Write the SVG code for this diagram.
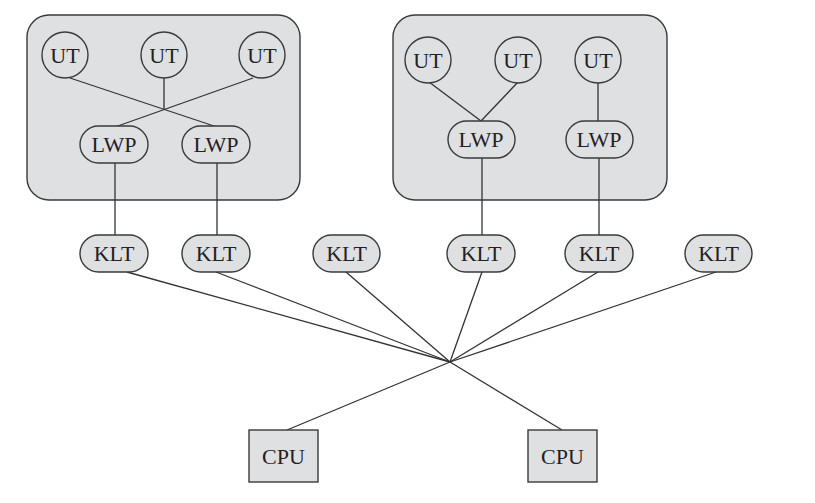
<svg xmlns="http://www.w3.org/2000/svg" width="815" height="503" viewBox="0 0 815 503">
  <style>
    .proc { fill: #dfe0e2; stroke: #3a3a3a; stroke-width: 1.4; }
    .node { fill: #dfe0e2; stroke: #3a3a3a; stroke-width: 1.4; }
    .lbl { font-family: "Liberation Serif", "Times New Roman", serif; font-size: 22px; fill: #222; text-anchor: middle; dominant-baseline: central; }
    .edge { stroke: #333; stroke-width: 1.3; fill: none; }
  </style>
  <rect width="815" height="503" fill="#ffffff"/>

  <!-- process containers -->
  <g id="process-1"><rect class="proc" x="27" y="15" width="273" height="185" rx="22"/></g>
  <g id="process-2"><rect class="proc" x="393" y="15" width="274" height="185" rx="22"/></g>

  <!-- connectors -->
  <g id="connectors">
    <line class="edge" x1="70" y1="78" x2="217" y2="127"/>
    <line class="edge" x1="253" y1="78" x2="115" y2="127"/>
    <line class="edge" x1="164" y1="78" x2="164" y2="109"/>
    <line class="edge" x1="429" y1="82" x2="481" y2="121"/>
    <line class="edge" x1="518" y1="82" x2="481" y2="121"/>
    <line class="edge" x1="598" y1="83" x2="598" y2="121"/>
    <line class="edge" x1="115" y1="163" x2="115" y2="235"/>
    <line class="edge" x1="217" y1="163" x2="217" y2="235"/>
    <line class="edge" x1="482" y1="158" x2="482" y2="235"/>
    <line class="edge" x1="599" y1="158" x2="599" y2="235"/>
    <line class="edge" x1="127" y1="272" x2="450" y2="362"/>
    <line class="edge" x1="216" y1="272" x2="450" y2="362"/>
    <line class="edge" x1="346" y1="272" x2="450" y2="362"/>
    <line class="edge" x1="482" y1="272" x2="450" y2="362"/>
    <line class="edge" x1="598" y1="272" x2="450" y2="362"/>
    <line class="edge" x1="716" y1="272" x2="450" y2="362"/>
    <line class="edge" x1="287" y1="430" x2="450" y2="362"/>
    <line class="edge" x1="562" y1="430" x2="450" y2="362"/>
  </g>

  <!-- user threads -->
  <g id="ut-1"><circle class="node" cx="65" cy="55" r="23"/><text class="lbl" x="65" y="55">UT</text></g>
  <g id="ut-2"><circle class="node" cx="164" cy="55" r="23"/><text class="lbl" x="164" y="55">UT</text></g>
  <g id="ut-3"><circle class="node" cx="262" cy="55" r="23"/><text class="lbl" x="262" y="55">UT</text></g>
  <g id="ut-4"><circle class="node" cx="428" cy="60" r="23"/><text class="lbl" x="428" y="60">UT</text></g>
  <g id="ut-5"><circle class="node" cx="518" cy="60" r="23"/><text class="lbl" x="518" y="60">UT</text></g>
  <g id="ut-6"><circle class="node" cx="598" cy="60" r="23"/><text class="lbl" x="598" y="60">UT</text></g>

  <!-- lightweight processes -->
  <g id="lwp-1"><rect class="node" x="80" y="126" width="68" height="37" rx="18.5"/><text class="lbl" x="114" y="144.5">LWP</text></g>
  <g id="lwp-2"><rect class="node" x="182" y="126" width="68" height="37" rx="18.5"/><text class="lbl" x="216" y="144.5">LWP</text></g>
  <g id="lwp-3"><rect class="node" x="448" y="121" width="67" height="37" rx="18.5"/><text class="lbl" x="481" y="139.5">LWP</text></g>
  <g id="lwp-4"><rect class="node" x="566" y="121" width="67" height="37" rx="18.5"/><text class="lbl" x="599" y="139.5">LWP</text></g>

  <!-- kernel-level threads -->
  <g id="klt-1"><rect class="node" x="80" y="235" width="68" height="37" rx="18.5"/><text class="lbl" x="114" y="253.5">KLT</text></g>
  <g id="klt-2"><rect class="node" x="182" y="235" width="68" height="37" rx="18.5"/><text class="lbl" x="216" y="253.5">KLT</text></g>
  <g id="klt-3"><rect class="node" x="313" y="235" width="67" height="37" rx="18.5"/><text class="lbl" x="346.5" y="253.5">KLT</text></g>
  <g id="klt-4"><rect class="node" x="447" y="235" width="68" height="37" rx="18.5"/><text class="lbl" x="481" y="253.5">KLT</text></g>
  <g id="klt-5"><rect class="node" x="565" y="235" width="68" height="37" rx="18.5"/><text class="lbl" x="599" y="253.5">KLT</text></g>
  <g id="klt-6"><rect class="node" x="685" y="235" width="67" height="37" rx="18.5"/><text class="lbl" x="718.5" y="253.5">KLT</text></g>

  <!-- processors -->
  <g id="cpu-1"><rect class="node" x="249" y="430" width="69" height="52"/><text class="lbl" x="283.5" y="456">CPU</text></g>
  <g id="cpu-2"><rect class="node" x="528" y="430" width="69" height="52"/><text class="lbl" x="562.5" y="456">CPU</text></g>
</svg>
